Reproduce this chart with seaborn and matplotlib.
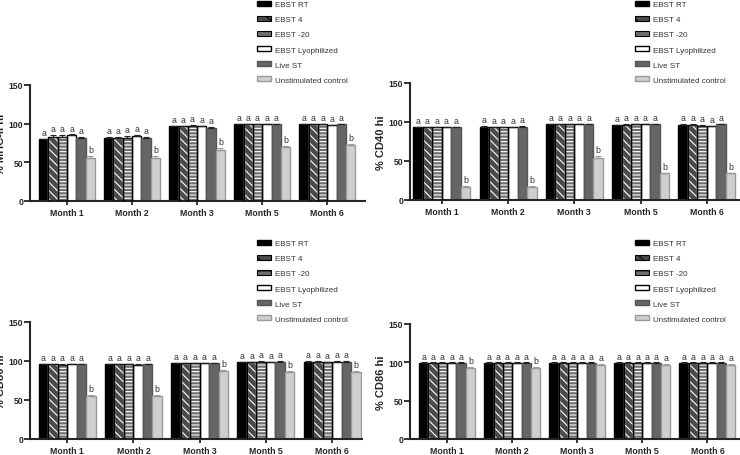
import numpy as np
import pandas as pd
import matplotlib
matplotlib.use('Agg')
import matplotlib.pyplot as plt
import seaborn as sns
from matplotlib.patches import Patch, Rectangle

# ==========================================
# DATA
# ==========================================

months = ['Month 1', 'Month 2', 'Month 3', 'Month 5', 'Month 6']
groups = ['EBST RT', 'EBST 4', 'EBST -20', 'EBST Lyophilized',
          'Live ST', 'Unstimulated control']

# rows = groups, columns = months
mhc_mean = [[80, 81, 97, 99, 99],
            [83, 81, 97, 99, 99],
            [83, 81, 97.5, 99, 99],
            [85, 84, 97, 99, 98],
            [81, 81, 95, 99, 99],
            [55, 55, 66, 70, 72]]
mhc_err = [[0.5, 2, 0.5, 0.5, 0.5],
           [2, 2, 0.5, 0.5, 0.5],
           [2, 3, 0.5, 0.5, 0.5],
           [1, 1, 0.5, 0.5, 0.5],
           [2, 2, 0.5, 0.5, 0.5],
           [3, 3, 2, 1, 2]]

cd40_mean = [[93, 94, 97.5, 96, 96.5],
             [93, 93, 97.5, 96.5, 96.5],
             [93, 93, 97.5, 97, 95.5],
             [93.5, 93.5, 97, 97, 95],
             [93.5, 94, 97, 97.5, 97.5],
             [17, 17, 54, 34, 34]]
cd40_err = [[0.5, 0.5, 0.5, 0.5, 0.5],
            [0.5, 0.5, 0.5, 0.5, 0.5],
            [0.5, 0.5, 0.5, 0.5, 0.5],
            [0.5, 0.5, 0.5, 0.5, 0.5],
            [0.5, 0.5, 0.5, 0.5, 0.5],
            [1, 1, 3, 1, 1]]

cd80_mean = [[96, 96, 97, 98.5, 99],
             [96, 96, 97, 98.5, 99],
             [95.5, 96, 97, 99, 98.5],
             [96, 95.5, 97, 98.5, 99],
             [96, 96, 97.5, 99, 99],
             [55, 55, 87, 86, 86]]
cd80_err = [[0.5, 0.5, 0.5, 0.5, 0.5],
            [0.5, 0.5, 0.5, 0.5, 0.5],
            [0.5, 0.5, 0.5, 0.5, 0.5],
            [0.5, 0.5, 0.5, 0.5, 0.5],
            [0.5, 0.5, 0.5, 0.5, 0.5],
            [2, 2, 1, 1.5, 1.5]]

cd86_mean = [[99.5, 99.5, 99.5, 99.5, 99.5],
             [99.5, 99.5, 99.5, 99.5, 99.5],
             [99.5, 99.5, 99.5, 99.5, 99.5],
             [99.5, 99.5, 99.5, 99.5, 99.5],
             [99.5, 99.5, 99.5, 99.5, 99.5],
             [93, 93, 97, 97, 97]]
cd86_err = [[0.3] * 5] * 5 + [[0.5, 0.5, 0.5, 0.5, 0.5]]

mhc_letters = ['b', 'b', 'b', 'b', 'b']
cd40_letters = ['b', 'b', 'b', 'b', 'b']
cd80_letters = ['b', 'b', 'b', 'b', 'b']
cd86_letters = ['b', 'b', 'a', 'a', 'a']

# ==========================================
# STYLE
# ==========================================

sns.set_style('ticks')
plt.rcParams['font.family'] = ['Liberation Sans', 'DejaVu Sans']
plt.rcParams['hatch.linewidth'] = 0.8

face_colors = ['#000000', '#4a4a4a', '#6e6e6e', '#ffffff', '#666666', '#cfcfcf']
edge_colors = ['#000000', '#000000', '#000000', '#000000', '#555555', '#9a9a9a']
hatches = [None, '\\\\\\\\', '-----', None, None, None]

panels = [
    ('% MHC-II hi', mhc_mean, mhc_err, mhc_letters,
     [30, 86, 365, 202], (-0.57, 4.58), (257, 4)),
    ('% CD40 hi', cd40_mean, cd40_err, cd40_letters,
     [410, 84, 740, 201], (-0.48, 4.5), (635, 4)),
    ('% CD80 hi', cd80_mean, cd80_err, cd80_letters,
     [30, 323, 362, 440], (-0.56, 4.45), (257, 243)),
    ('% CD86 hi', cd86_mean, cd86_err, cd86_letters,
     [410, 325, 740, 440], (-0.57, 4.5), (635, 243)),
]

W, H = 740, 456
fig = plt.figure(figsize=(W / 100, H / 100), dpi=100)

for ylabel, means, errs, ctrl_letters, box, xlim, leg_xy in panels:
    x0, ytop, x1, ybot = box
    ax = fig.add_axes([x0 / W, 1 - ybot / H, (x1 - x0) / W, (ybot - ytop) / H])

    rows = []
    for gi, g in enumerate(groups):
        for mi, m in enumerate(months):
            rows.append({'month': m, 'group': g, 'value': means[gi][mi]})
    df = pd.DataFrame(rows)

    sns.barplot(data=df, x='month', y='value', hue='group', order=months,
                hue_order=groups, palette=face_colors, width=0.86,
                errorbar=None, legend=False, ax=ax, saturation=1)

    bar_conts = list(ax.containers)
    for gi, cont in enumerate(bar_conts):
        xs, tops = [], []
        for mi, p in enumerate(cont.patches):
            p.set_facecolor(face_colors[gi])
            p.set_linewidth(1.0)
            if hatches[gi]:
                p.set_hatch(hatches[gi])
                p.set_edgecolor('white')
                ax.add_patch(Rectangle((p.get_x(), 0), p.get_width(), p.get_height(),
                                       fill=False, edgecolor='black', lw=1.0, zorder=3))
            else:
                p.set_edgecolor(edge_colors[gi])
            xs.append(p.get_x() + p.get_width() / 2)
            tops.append(p.get_height())
        err = np.array(errs[gi])
        ax.errorbar(xs, tops, yerr=[np.zeros(len(err)), err], fmt='none',
                    ecolor=edge_colors[gi] if gi == 5 else '#222222',
                    elinewidth=0.8, capsize=2.2, capthick=0.8, zorder=4)
        for mi in range(len(xs)):
            lab = ctrl_letters[mi] if gi == 5 else 'a'
            ax.text(xs[mi], tops[mi] + err[mi] + 2.5, lab, ha='center', va='bottom',
                    fontsize=6.3, color='#333333')

    ax.set_ylim(0, 150)
    ax.set_xlim(*xlim)
    ax.set_yticks([0, 50, 100, 150])
    ax.set_xlabel('')
    ax.set_ylabel(ylabel, fontsize=8, fontweight='bold', labelpad=2)
    for lbl in ax.get_xticklabels():
        lbl.set_fontweight('bold')
        lbl.set_fontsize(6.3)
    for lbl in ax.get_yticklabels():
        lbl.set_fontweight('bold')
        lbl.set_fontsize(6.2)
    ax.tick_params(axis='y', width=1.3, length=4, pad=1)
    ax.tick_params(axis='x', width=1.3, length=3, pad=2)
    for s in ['left', 'bottom']:
        ax.spines[s].set_linewidth(1.5)
    sns.despine(ax=ax)

    handles = []
    for gi, g in enumerate(groups):
        if hatches[gi]:
            handles.append(Patch(facecolor=face_colors[gi], edgecolor='black',
                                 hatch=hatches[gi][:2], lw=0.8, label=g))
        else:
            handles.append(Patch(facecolor=face_colors[gi], edgecolor=edge_colors[gi],
                                 lw=1.0, label=g))
    lx, ly = leg_xy
    leg = fig.legend(handles=handles, loc='upper left',
                     bbox_to_anchor=(lx / W, 1 - (ly - 2) / H),
                     frameon=False, fontsize=5.8, handlelength=1.7, handleheight=0.6,
                     labelspacing=0.95, borderpad=0, borderaxespad=0,
                     handletextpad=0.5)
    for t in leg.get_texts():
        t.set_color('#333333')

fig.savefig('out.png', dpi=100)
